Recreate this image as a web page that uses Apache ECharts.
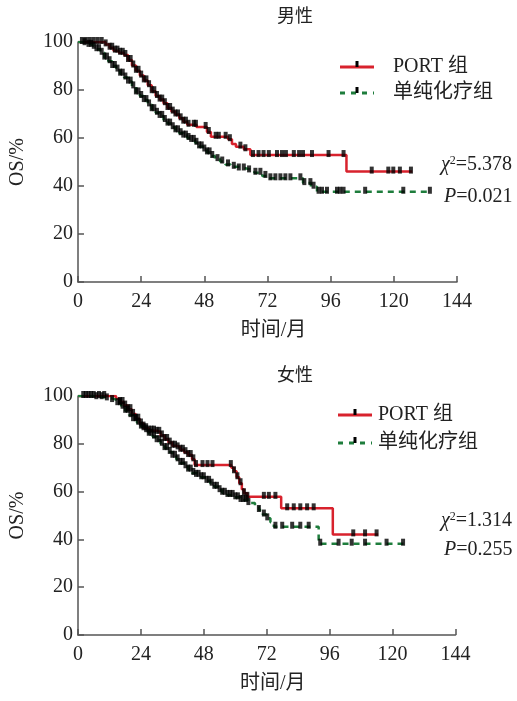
<!DOCTYPE html>
<html>
<head>
<meta charset="utf-8">
<script src="https://cdn.jsdelivr.net/npm/echarts@6/dist/echarts.min.js"></script>
<style>
  html, body { margin: 0; padding: 0; background: #fff; }
  #chart { width: 517px; height: 701px; }
</style>
</head>
<body>
<div id="chart"></div>
<script>
// Kaplan-Meier step points [month, OS%]
const maleOpPort = [
  [0,100],[10.5,99],[12,97.6],[13.5,96.4],[15.5,95.5],[17.5,94.6],[19,92.5],[20.5,90.2],[22,88],[23.5,86],
  [25,84],[26.5,82],[28,79.5],[29.5,77.5],[31,76],[32.5,74.5],[34,72.5],[35.5,71],[37,69.8],[38.5,68.2],
  [40,66.8],[41.5,65.5],[45,64.6],[49,62.5],[50.5,60.5],[57,59.5],[58.5,57.5],[60,56.4],[63,55.3],
  [65.5,52.9],[102,46],[127,46]
];
const maleChemo = [
  [0,100],[2,99.5],[4,98.8],[5.5,98],[7,97],[8.5,95.5],[10,93.5],[11.5,92],[13,90],[14.5,88.5],
  [16,86.8],[17.5,85.2],[19,83.5],[20.5,81.5],[22,79],[23.5,77.5],[25,75.8],[26.5,74],[28,72],[29.5,70.5],
  [31,69.2],[32.5,67.5],[34,66],[35.5,64.5],[37,63.2],[38.5,62],[40,61],[41.5,60],[43,59.2],[44.5,58],
  [46,56.5],[47.5,55.2],[49,54],[50.5,52.5],[52,51.2],[54,50.2],[56,49],[58,48],[61,47.3],[64,46.5],
  [67,45.5],[70,44.2],[73,43.2],[85.5,41.2],[88.5,39.7],[90.8,37.6],[134,37.6]
];
const femalePort = [
  [0,100],[14.5,98.8],[16,97.5],[17.5,96],[19,94.5],[20.5,92.5],[22,90.5],[23.5,88.5],[25,86.5],[27,85.5],
  [30,85],[31.5,83.5],[33,82],[34.5,80.5],[36,79.2],[37.5,78.5],[39,77.5],[40.5,76.5],[42,75.3],[43.5,73.5],
  [44.5,71.1],[58.5,70],[59.5,68.5],[60.5,66],[61.5,63.5],[62.5,61],[63.3,59.3],[64.6,57.8],[77.5,53],
  [97.2,42.1],[114.5,42.1]
];
const femaleChemo = [
  [0,100],[6,99.5],[10,99],[13,98.3],[15,97],[16.5,95.5],[18,93.8],[19.5,92],[21,90.3],[22.5,88.8],
  [24,87.2],[25.5,85.7],[27,84.2],[28.5,83],[30,81.5],[31.5,80],[33,78.2],[34.5,76.6],[36,75],[37.5,73.5],
  [39,72],[40.5,70.6],[42,69.2],[43.5,67.8],[45,67],[47,66],[49,64.5],[50.5,63.3],[52,62],[53.5,60.6],
  [55,59.5],[57,58.6],[59.5,57.6],[62,56.5],[65,55.2],[67.5,53.8],[69,52.3],[70.5,50.4],[72,48.8],
  [73.4,47.2],[74.7,45.3],[91.8,38.2],[124.7,38.2]
];

// censoring times (months)
const maleOpPortCensor = [1.5,3,4.5,6,7.5,9,10.5,12,13,14,15,16,17,18,19,20,21,22,23,24,25,26,27,28,29,30,31,32,33,34,35,36,37,38,39,40,41,42,
  44,44.8,48.5,49.7,52.3,53.5,56.1,57.7,61.7,63.6,66.5,68.6,70.5,72.5,75.6,77.5,79,82,84,85.5,88.9,95.2,100.9,111.6,117.9,119.8,122.3,126.5];
const maleChemoCensor = [2.5,4,5,6,7,8,9,10,11,12,13,14,15,16,17,18,19,20,21,22,23,24,25,26,27,28,29,30,31,32,33,34,35,36,37,38,39,40,41,42,43,44,45,46,47,48,49,50,
  51,53,54.8,57,59.2,61.1,63,65,67.4,69.3,71.2,73.1,75,76.9,78.8,80.7,84.5,86,88.3,89.5,91.4,92.7,94.6,98.4,99.6,100.9,109.1,123.6,133.7];
const femalePortCensor = [2,4,6,8,10,16,17,18,19,20,21,22,23,24,25,26,27,28,29,30,31,32,33,34,35,36,37,38,39,40,41,42,43,44,
  45,47.5,49.4,51.3,58.3,59.5,60.8,62,63.3,64.6,70.9,72.8,75.3,79.8,82.3,84.8,87.4,89.9,105,109.5,113.9];
const femaleChemoCensor = [3,5,7,9,11,13,15,16,17,18,19,20,21,22,23,24,25,26,27,28,29,30,31,32,33,34,35,36,37,38,39,40,41,42,43,44,45,46,47,48,49,50,
  51,52,53,54,55,56,57,58,59,60,61,62,63,64,65,69,70.9,72.2,75.3,77.9,81.7,84.8,88,92.4,99.4,104.4,109.5,117.7,124];

const xTicks = [0, 24, 48, 72, 96, 120, 144];
const yTicks = [0, 20, 40, 60, 80, 100];

const RED = '#d8222d';
const GREEN = '#1e7d3c';
const FONT = '"Liberation Serif", "Noto Sans CJK SC", serif';

function survAt(curve, t) {
  let v = curve[0][1];
  for (const p of curve) {
    if (p[0] <= t) v = p[1];
    else break;
  }
  return v;
}

function kmLine(idx, data, color, dashed) {
  return {
    type: 'line', xAxisIndex: idx, yAxisIndex: idx, data: data,
    step: 'end', showSymbol: false, symbol: 'none', z: 2,
    lineStyle: { color: color, width: 2.5, type: dashed ? [6, 5] : 'solid' }
  };
}

function censorMarks(idx, curve, times) {
  return {
    type: 'scatter', xAxisIndex: idx, yAxisIndex: idx, z: 3,
    data: times.map(t => [t, survAt(curve, t)]),
    symbol: 'rect', symbolSize: [4, 7], symbolOffset: [0, -1.5],
    itemStyle: { color: '#000' }
  };
}

function xAxisOf(idx) {
  return {
    type: 'value', gridIndex: idx, min: 0, max: 144, interval: 24,
    name: '时间/月', nameLocation: 'middle', nameGap: 39,
    nameTextStyle: { fontFamily: FONT, fontSize: 20, color: '#222', padding: [0, 0, 0, 12] },
    axisLine: { lineStyle: { color: '#555', width: 1.5 } },
    axisTick: { inside: true, length: 6, lineStyle: { color: '#555', width: 1.5 } },
    axisLabel: { fontFamily: FONT, fontSize: 20, color: '#222', margin: 10,
      formatter: v => xTicks.includes(v) ? String(v) : '' },
    splitLine: { show: false }
  };
}

function yAxisOf(idx) {
  return {
    type: 'value', gridIndex: idx, min: 0, max: 100, interval: 20,
    name: 'OS/%', nameLocation: 'middle', nameGap: 50, nameRotate: 90,
    nameTextStyle: { fontFamily: FONT, fontSize: 20, color: '#222' },
    axisLine: { show: true, lineStyle: { color: '#555', width: 1.5 } },
    axisTick: { show: true, inside: true, length: 6, lineStyle: { color: '#555', width: 1.5 } },
    axisLabel: { fontFamily: FONT, fontSize: 20, color: '#222', margin: 5,
      formatter: v => yTicks.includes(v) ? String(v) : '' },
    splitLine: { show: false }
  };
}

function legendGroup(x0, x1, yRed, yGreen, textX) {
  const tickX = (x0 + x1) / 2;
  return [
    { type: 'line', shape: { x1: x0, y1: yRed, x2: x1, y2: yRed }, style: { stroke: RED, lineWidth: 3 } },
    { type: 'rect', shape: { x: tickX - 1.5, y: yRed - 6, width: 3, height: 6 }, style: { fill: '#000' } },
    { type: 'text', x: textX, y: yRed, style: { text: 'PORT 组', font: '20px ' + FONT, fill: '#222', verticalAlign: 'middle' } },
    { type: 'line', shape: { x1: x0, y1: yGreen, x2: x1, y2: yGreen }, style: { stroke: GREEN, lineWidth: 3, lineDash: [5, 6] } },
    { type: 'rect', shape: { x: tickX - 1.5, y: yGreen - 6, width: 3, height: 6 }, style: { fill: '#000' } },
    { type: 'text', x: textX, y: yGreen, style: { text: '单纯化疗组', font: '20px ' + FONT, fill: '#222', verticalAlign: 'middle' } }
  ];
}

function statText(x, y1, y2, chi, p) {
  const rich = {
    i: { fontFamily: FONT, fontSize: 20, fontStyle: 'italic', fill: '#222' },
    n: { fontFamily: FONT, fontSize: 20, fill: '#222' },
    s: { fontFamily: FONT, fontSize: 12, fill: '#222', verticalAlign: 'top', padding: [0, 0, 8, 0] }
  };
  return [
    { type: 'text', x: x, y: y1, style: { text: '{i|χ}{s|2}{n|=' + chi + '}', rich: rich, verticalAlign: 'middle' } },
    { type: 'text', x: x + 3, y: y2, style: { text: '{i|P}{n|=' + p + '}', rich: rich, verticalAlign: 'middle' } }
  ];
}

const chart = echarts.init(document.getElementById('chart'));
chart.setOption({
  animation: false,
  backgroundColor: '#fff',
  grid: [
    { left: 77, top: 42, width: 380, height: 240 },
    { left: 76.5, top: 396, width: 379, height: 239 }
  ],
  xAxis: [xAxisOf(0), xAxisOf(1)],
  yAxis: [yAxisOf(0), yAxisOf(1)],
  series: [
    kmLine(0, maleOpPort, RED, false),
    kmLine(0, maleChemo, GREEN, true),
    censorMarks(0, maleOpPort, maleOpPortCensor),
    censorMarks(0, maleChemo, maleChemoCensor),
    kmLine(1, femalePort, RED, false),
    kmLine(1, femaleChemo, GREEN, true),
    censorMarks(1, femalePort, femalePortCensor),
    censorMarks(1, femaleChemo, femaleChemoCensor)
  ],
  graphic: [
    { type: 'text', x: 295, y: 17, style: { text: '男性', font: '18px ' + FONT, fill: '#222', align: 'center', verticalAlign: 'middle' } },
    { type: 'text', x: 295, y: 376, style: { text: '女性', font: '18px ' + FONT, fill: '#222', align: 'center', verticalAlign: 'middle' } },
    ...legendGroup(340, 374, 67, 93, 393),
    ...legendGroup(338, 372, 415, 443, 378),
    ...statText(441, 165, 197, '5.378', '0.021'),
    ...statText(441, 521, 550, '1.314', '0.255')
  ]
});
</script>
</body>
</html>
